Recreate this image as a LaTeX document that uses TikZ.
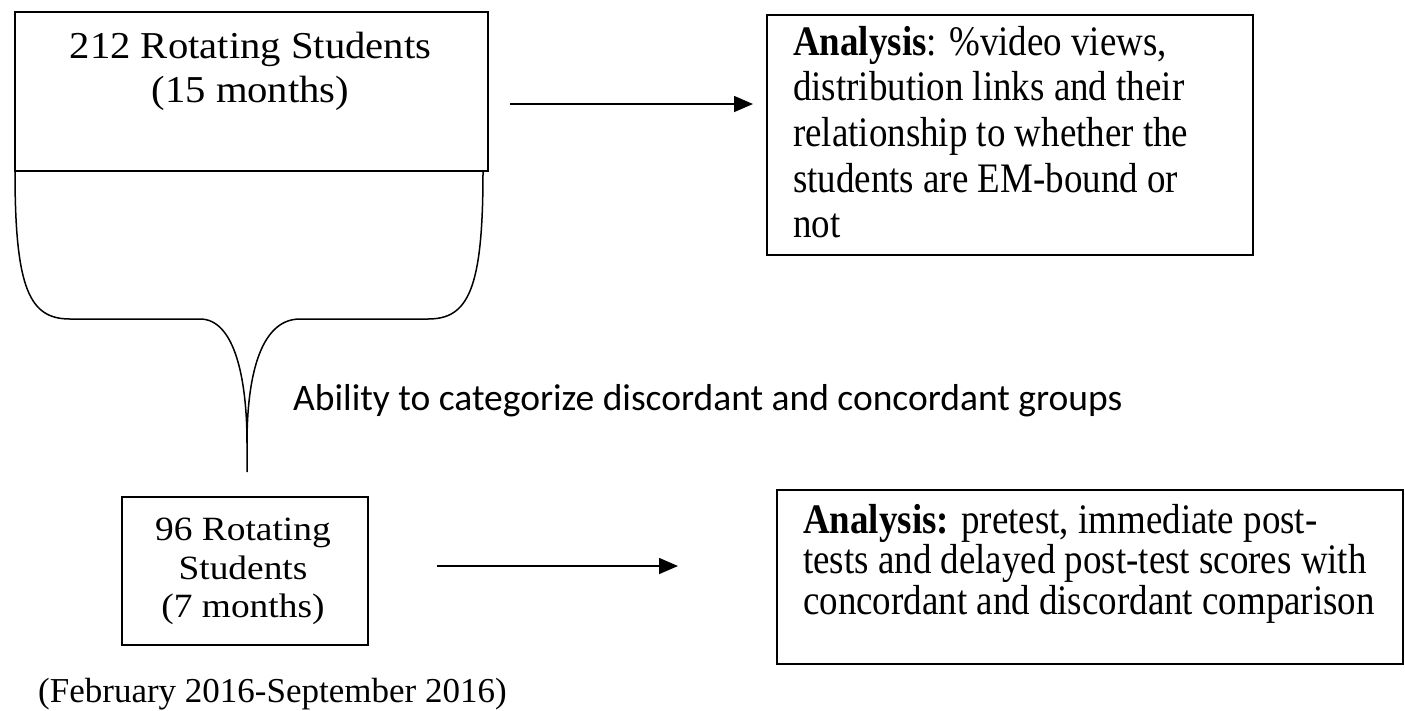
\documentclass[tikz,border=0pt]{standalone}
\usepackage{fontspec}
\setmainfont{Liberation Serif}
\newfontfamily\fwideA[FakeStretch=1.07]{Liberation Serif}
\newfontfamily\fwideB[FakeStretch=1.1]{Liberation Serif}
\newfontfamily\fcond[FakeStretch=0.88]{Liberation Serif}
\newfontfamily\fsans{Carlito}
\usetikzlibrary{arrows.meta}
\begin{document}
\begin{tikzpicture}[x=1pt,y=-1pt,
  boxframe/.style={draw=black, line width=1.5pt, inner sep=0pt},
  topline/.style={font=\fwideA\fontsize{38}{44}\selectfont, inner sep=0pt, anchor=base},
  smallline/.style={font=\fwideB\fontsize{34}{40}\selectfont, inner sep=0pt, anchor=base},
  dateline/.style={font=\fontsize{35}{40}\selectfont, inner sep=0pt, anchor=base west},
  anline/.style={font=\fcond\fontsize{42}{46}\selectfont, inner sep=0pt, anchor=base west},
  sansline/.style={font=\fsans\fontsize{37.5}{44}\selectfont, inner sep=0pt, anchor=base west},
  brace/.style={draw=black, line width=1.5pt},
  arr/.style={draw=black, line width=1.6pt, -{Triangle[length=19pt,width=16pt]}}]
\useasboundingbox (0,0) rectangle (1405,710);

% boxes
\node[boxframe, minimum width=473pt, minimum height=159pt] (b1) at (251.5,91.5) {};
\node[boxframe, minimum width=486pt, minimum height=240pt] (b2) at (1010,135) {};
\node[boxframe, minimum width=246pt, minimum height=148pt] (b3) at (245,571) {};
\node[boxframe, minimum width=626pt, minimum height=174pt] (b4) at (1090,577) {};

% box 1 text
\node[topline] (b1t1) at (250.5,58) {212 Rotating Students};
\node[topline] (b1t2) at (250.5,102) {(15 months)};

% box 2 text
\node[anline] (b2t1) at (793,55) {\textbf{Analysis}: \%video views,};
\node[anline] (b2t2) at (793,100) {distribution links and their};
\node[anline] (b2t3) at (793,146) {relationship to whether the};
\node[anline] (b2t4) at (793,192) {students are EM-bound or};
\node[anline] (b2t5) at (793,237) {not};

% box 3 text
\node[smallline] (b3t1) at (243,540) {96 Rotating};
\node[smallline] (b3t2) at (243,579) {Students};
\node[smallline] (b3t3) at (243,617) {(7 months)};

% box 4 text
\node[anline] (b4t1) at (803,533) {\textbf{Analysis:} pretest, immediate post-};
\node[anline] (b4t2) at (803,573) {tests and delayed post-test scores with};
\node[anline] (b4t3) at (803,614) {concordant and discordant comparison};

% free labels
\node[sansline] (abil) at (293,410) {Ability to categorize discordant and concordant groups};
\node[dateline] (dates) at (38,702) {(February 2016-September 2016)};

% brace
\coordinate (brL) at (15,172);
\coordinate (brR) at (483,172);
\coordinate (tip) at (247,443);
\coordinate (tail) at (247,472);
\draw[brace] (brL) .. controls (15,290) and (30,319) .. (70,319) -- (200,319)
  .. controls (235,319) and (247,380) .. (tip) -- (tail);
\draw[brace] (brR) .. controls (483,290) and (468,319) .. (428,319) -- (300,319)
  .. controls (259,319) and (247,380) .. (tip);

% arrows
\coordinate (a1s) at (510,104);
\coordinate (a1e) at (753,104);
\coordinate (a2s) at (437,566);
\coordinate (a2e) at (678,566);
\draw[arr] (a1s) -- (a1e);
\draw[arr] (a2s) -- (a2e);
\end{tikzpicture}
\end{document}
